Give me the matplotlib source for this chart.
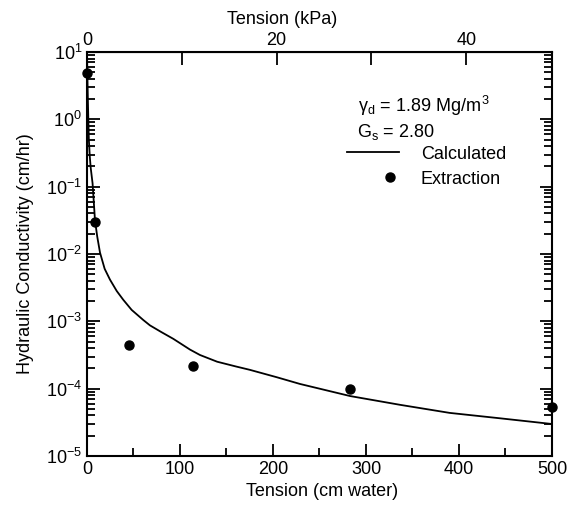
import numpy as np
import matplotlib
matplotlib.use('Agg')
import matplotlib.pyplot as plt
from matplotlib.ticker import LogLocator, MultipleLocator

plt.rcParams['font.family'] = ['Liberation Sans', 'DejaVu Sans']
plt.rcParams['mathtext.fontset'] = 'custom'
plt.rcParams['mathtext.rm'] = 'Liberation Sans'
plt.rcParams['mathtext.it'] = 'Liberation Sans'

# calculated curve (tension in cm water, log10 of K in cm/hr)
calc_tension = [0, 0.5, 1, 2, 3, 4, 6, 8.6, 11, 14, 19, 24.7, 32, 39, 48, 60.5, 67.7, 80,
                92.8, 110.8, 121.5, 140, 160, 175, 204, 229, 283, 336.6, 390, 444, 500]
calc_logk = [1.0, 0.6, 0.25, -0.3, -0.55, -0.72, -0.95, -1.5, -1.74, -1.98, -2.22, -2.38,
             -2.55, -2.68, -2.83, -2.98, -3.06, -3.16, -3.26, -3.42, -3.5, -3.6, -3.67,
             -3.72, -3.83, -3.93, -4.11, -4.24, -4.36, -4.44, -4.525]
calc_k = 10 ** np.array(calc_logk)

# extraction data
ext_tension = [0, 9, 45, 114, 283, 500]
ext_k = [4.9, 0.030, 4.5e-4, 2.15e-4, 1.0e-4, 5.3e-5]

CM_PER_KPA = 10.197
FS = 13

fig = plt.figure(figsize=(5.78, 5.12), dpi=100)
ax = fig.add_axes([0.1505, 0.1094, 0.8045, 0.789])

calc_line, = ax.plot(calc_tension, calc_k, color='black', lw=1.3, label='Calculated')
ext_pts, = ax.plot(ext_tension, ext_k, 'o', color='black', ms=6.5, label='Extraction', clip_on=False)

ax.set_yscale('log')
ax.set_xlim(0, 500)
ax.set_ylim(1e-5, 1e1)
ax.xaxis.set_major_locator(MultipleLocator(100))
ax.xaxis.set_minor_locator(MultipleLocator(50))
ax.yaxis.set_major_locator(LogLocator(base=10, numticks=10))
ax.yaxis.set_minor_locator(LogLocator(base=10, subs=np.arange(2, 10), numticks=20))
ax.tick_params(which='both', direction='in', right=True, top=False, labelsize=FS, width=1.3)
ax.tick_params(which='major', length=9)
ax.tick_params(which='minor', length=6)
for s in ax.spines.values():
    s.set_linewidth(1.5)

ax.set_xlabel('Tension (cm water)', fontsize=FS)
ax.xaxis.set_label_coords(0.506, -0.066)
ax.set_ylabel('Hydraulic Conductivity (cm/hr)', fontsize=FS)
ax.yaxis.set_label_coords(-0.113, 0.5)

sec = ax.secondary_xaxis('top', functions=(lambda x: x / CM_PER_KPA, lambda x: x * CM_PER_KPA))
sec.xaxis.set_major_locator(MultipleLocator(20))
sec.xaxis.set_minor_locator(MultipleLocator(10))
sec.tick_params(which='both', direction='in', labelsize=FS, width=1.3, pad=2)
sec.tick_params(which='major', length=9)
sec.tick_params(which='minor', length=9)
sec.set_xlabel('Tension (kPa)', fontsize=FS, labelpad=6, x=0.42)

ax.text(0.583, 0.851, r'$\gamma_{\rm d}$ = 1.89 Mg/m$^{\,\rm 3}$', transform=ax.transAxes,
        fontsize=FS, va='baseline')
ax.text(0.58, 0.79, r'G$_{\rm s}$ = 2.80', transform=ax.transAxes, fontsize=FS, va='baseline')

leg1 = ax.legend(handles=[calc_line], loc='center left', bbox_to_anchor=(0.559, 0.7475),
                 frameon=False, fontsize=FS, handlelength=2.88, handletextpad=1.22, borderpad=0,
                 borderaxespad=0)
ax.add_artist(leg1)
ax.legend(handles=[ext_pts], loc='center left', bbox_to_anchor=(0.632, 0.6856),
          frameon=False, fontsize=FS, handlelength=1.0, handletextpad=1.22, borderpad=0,
          borderaxespad=0)

fig.savefig('out.png', dpi=100)
